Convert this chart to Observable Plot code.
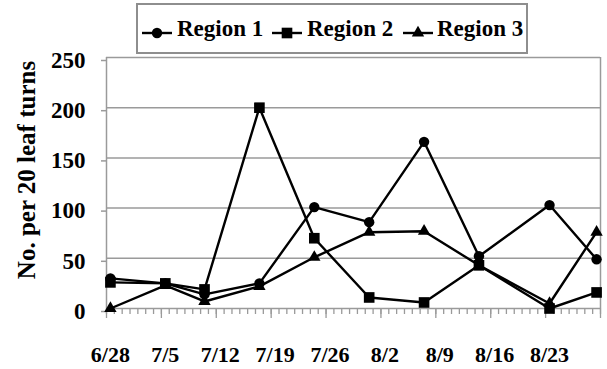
<!DOCTYPE html>
<html>
<head>
<meta charset="utf-8">
<script src="https://cdn.jsdelivr.net/npm/d3@7"></script>
<script src="https://cdn.jsdelivr.net/npm/@observablehq/plot@0.6"></script>
<style>
  html, body { margin: 0; padding: 0; background: #fff; }
  body { width: 607px; height: 369px; overflow: hidden; font-family: "Liberation Serif", Tinos, "Times New Roman", Times, "DejaVu Serif", "Noto Serif", serif; font-weight: bold; }
  #legend { position: relative; width: 607px; height: 55px; }
  #box { position: absolute; left: 136px; top: 3px; width: 388px; height: 47px; border: 2px solid #8e8e8e; }
  .mk { position: absolute; top: 25px; width: 30px; height: 16px; }
  .lt { position: absolute; top: 18px; font-size: 23px; line-height: 22px; white-space: nowrap; color: #000; }
  #chart svg { display: block; }
  #chart svg text { font-family: "Liberation Serif", Tinos, "Times New Roman", Times, "DejaVu Serif", "Noto Serif", serif; }
</style>
</head>
<body>
<div id="legend"><div id="box"></div></div>
<div id="chart"></div>
<script>
// ---- data ----
const sampleDates = ["6/28", "7/5", "7/10", "7/17", "7/24", "7/31", "8/7", "8/14", "8/23", "8/29"];
const region1 = [30, 25, 14, 25, 101, 86, 166, 52, 103, 49];
const region2 = [26, 25, 19, 200, 70, 11, 6, 43, 0, 16];
const region3 = [0, 23, 7, 22, 51, 76, 77, 43, 5, 76];
const seriesNames = ["Region 1", "Region 2", "Region 3"];
const seriesSymbols = ["circle", "square", "triangle"];
const yTicks = [0, 50, 100, 150, 200, 250];
const xTickLabels = ["6/28", "7/5", "7/12", "7/19", "7/26", "8/2", "8/9", "8/16", "8/23"];
const yTitle = "No. per 20 leaf turns";
const year = 2009;

// ---- helpers ----
const parseDay = (s, h = 0) => { const [m, d] = s.split("/").map(Number); return new Date(Date.UTC(year, m - 1, d, h)); };
const rows = [];
[region1, region2, region3].forEach((vals, i) =>
  vals.forEach((v, j) => rows.push({series: seriesNames[i], symbol: seriesSymbols[i], date: parseDay(sampleDates[j], 12), value: v}))
);
const xStart = parseDay("6/28");
const xEnd = parseDay("8/30");
const days = d3.utcDay.range(xStart, d3.utcDay.offset(xEnd, 1));
const weeks = d3.utcSunday.range(xStart, d3.utcDay.offset(xEnd, 1));
const labelTicks = xTickLabels.map(s => parseDay(s, 12));

const FONT = '"Liberation Serif", Tinos, "Times New Roman", Times, "DejaVu Serif", "Noto Serif", serif';
const GRAY = "#9a9a9a";
const symbolR = {circle: 5.2, square: 6.0, triangle: 4.6};

const chart = Plot.plot({
  width: 607,
  height: 314,
  marginTop: 2,
  marginLeft: 106,
  marginRight: 7,
  marginBottom: 61,
  style: {fontFamily: FONT, fontWeight: "bold", fontSize: "22px", background: "white", overflow: "visible"},
  x: {type: "utc", domain: [xStart, xEnd], axis: null},
  y: {domain: [0, 250], axis: null},
  marks: [
    Plot.gridY(yTicks.filter(d => d > 0), {stroke: GRAY, strokeOpacity: 1, strokeWidth: 1.5}),
    Plot.ruleX([xEnd], {stroke: GRAY, strokeWidth: 1.5}),
    Plot.ruleX([xStart], {stroke: GRAY, strokeWidth: 1.5}),
    Plot.ruleY([0], {stroke: GRAY, strokeWidth: 1.5}),
    Plot.axisY({ticks: yTicks, tickSize: 5, tickPadding: 16, stroke: GRAY, strokeWidth: 1.5, fill: "black", label: null, fontSize: 23, fontWeight: "bold", dy: 3}),
    Plot.axisX({ticks: days, tickSize: 6, stroke: GRAY, strokeWidth: 1.3, tickFormat: () => "", label: null}),
    Plot.axisX({ticks: weeks, tickSize: 10, stroke: GRAY, strokeWidth: 1.3, tickFormat: () => "", label: null}),
    Plot.axisX({ticks: labelTicks, tickSize: 0, tickPadding: 38, fill: "black", fontSize: 22, fontWeight: "bold", label: null,
      tickFormat: (d, i) => xTickLabels[i]}),
    Plot.text([yTitle], {frameAnchor: "left", textAnchor: "middle", rotate: -90, dx: -80, dy: -13, fontSize: 25, fontWeight: "bold", fill: "black"}),
    Plot.line(rows, {x: "date", y: "value", z: "series", stroke: "black", strokeWidth: 2.4}),
    ...seriesSymbols.map(s =>
      Plot.dot(rows.filter(d => d.symbol === s), {x: "date", y: "value", symbol: () => s, r: symbolR[s], fill: "black", stroke: "none"})
    )
  ]
});
document.getElementById("chart").appendChild(chart);

// ---- legend (HTML above the SVG) ----
const legend = document.getElementById("legend");
const itemPos = [{mk: 142, tx: 177}, {mk: 272, tx: 307}, {mk: 403, tx: 437}];
const sym = {circle: d3.symbolCircle, square: d3.symbolSquare, triangle: d3.symbolTriangle};
seriesNames.forEach((name, i) => {
  const s = seriesSymbols[i];
  const svg = d3.create("svg").attr("class", "mk").attr("width", 30).attr("height", 16)
    .style("left", itemPos[i].mk + "px");
  svg.append("line").attr("x1", 0).attr("x2", 30).attr("y1", 8).attr("y2", 8).attr("stroke", "black").attr("stroke-width", 2.4);
  svg.append("path").attr("transform", "translate(15,8)")
    .attr("d", d3.symbol(sym[s], Math.PI * symbolR[s] * symbolR[s])()).attr("fill", "black");
  legend.appendChild(svg.node());
  const t = document.createElement("div");
  t.className = "lt";
  t.style.left = itemPos[i].tx + "px";
  t.textContent = name;
  legend.appendChild(t);
});
</script>
</body>
</html>
